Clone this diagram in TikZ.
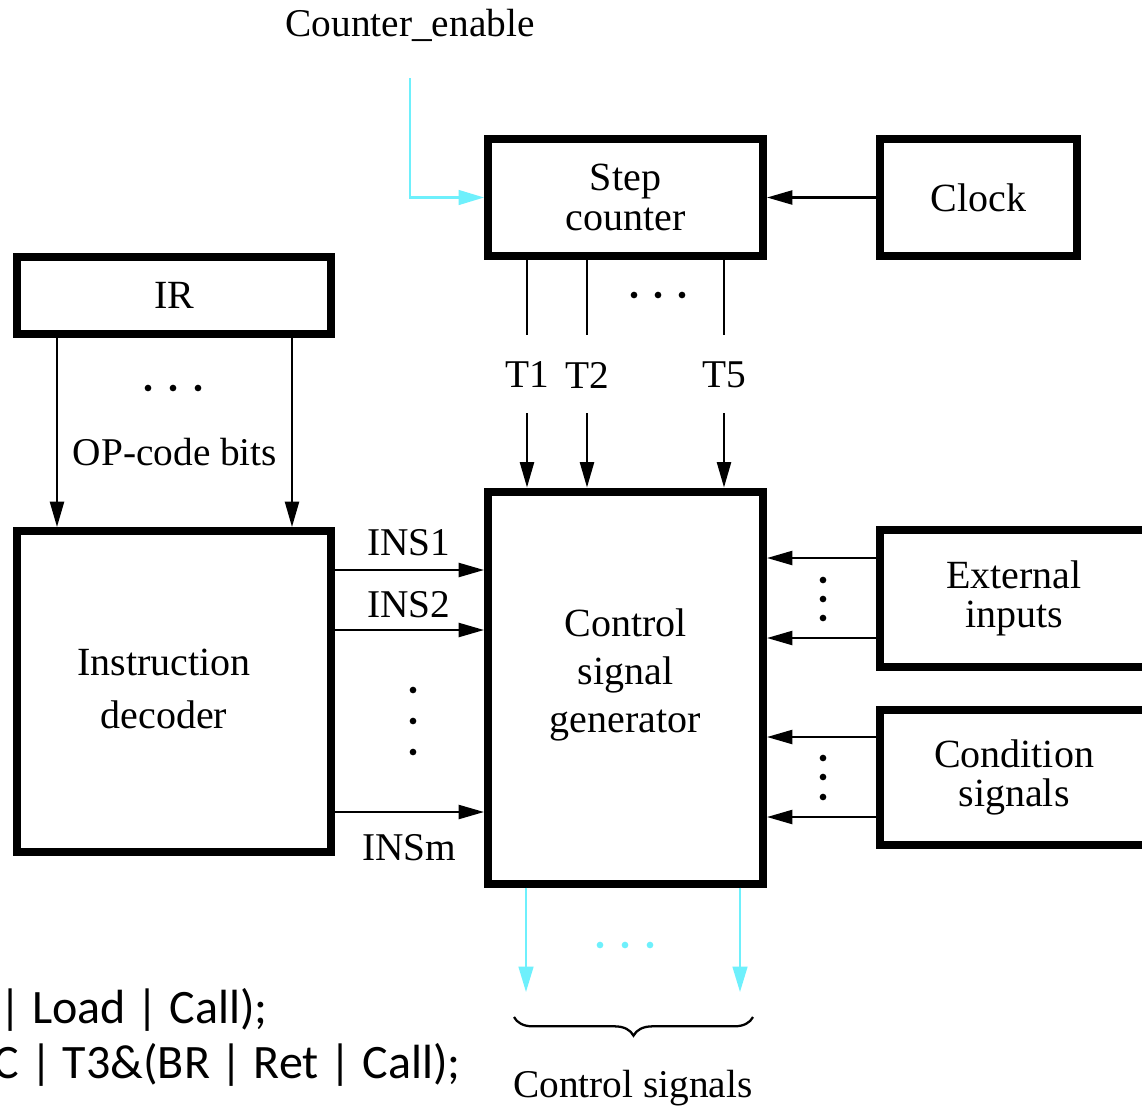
\documentclass[tikz,border=0pt]{standalone}
\usepackage{fontspec}
\setmainfont{Liberation Serif}
\newfontfamily\calibri{Carlito}
\usetikzlibrary{arrows.meta,decorations.pathreplacing,calc}
\definecolor{cyanline}{RGB}{110,240,252}
\begin{document}
\begin{tikzpicture}[x=0.75pt,y=-0.75pt,
  sz/.style 2 args={minimum width=#1*0.75pt,minimum height=#2*0.75pt},
  box/.style={draw,line width=6pt,inner sep=0pt,align=center,font=\fontsize{30}{29.5}\selectfont},
  wire/.style={line width=1.7pt},
  arr/.style={wire,-{Triangle[length=19pt,width=10.5pt]}},
  carr/.style={line width=1.7pt,draw=cyanline,-{Triangle[length=19pt,width=11pt,fill=cyanline]}},
  lbl/.style={font=\fontsize{29.5}{29.5}\selectfont,inner sep=0pt,align=center},
  dotc/.style={circle,fill,inner sep=0pt,minimum size=5pt},
  codetxt/.style={font=\calibri\fontsize{36}{40}\selectfont,inner sep=0pt,anchor=base east}]
\useasboundingbox (0,0) rectangle (1142,1107);
\clip (0,0) rectangle (1142,1107);
\fill[white] (0,0) rectangle (1142,1107);

% boxes
\node[box,sz={275}{117}] (sc) at (625.5,197.5) {Step\\counter};
\node[box,sz={197}{117}] (clk) at (978.5,197.5) {Clock};
\node[box,sz={314}{77}] (ir) at (174,295.5) {IR};
\node[box,sz={314}{321}] (dec) at (174,691.5) {};
\node[lbl,font=\fontsize{30}{40}\selectfont] (dect) at (164,689) {Instruction\\decoder};
\node[box,sz={275}{392}] (csg) at (625.5,687.5) {};
\node[lbl,font=\fontsize{30}{36}\selectfont] (csgt) at (625.5,675) {Control\\signal\\generator};
\node[box,sz={268}{137}] (ext) at (1014,598.5) {External\\inputs};
\node[box,sz={268}{135}] (cond) at (1014,777.5) {Condition\\signals};

% Counter_enable
\node[lbl] (ce) at (410,25) {Counter\_enable};
\coordinate (ces) at (410,78);
\draw[carr] (ces) |- (sc.west);

% clock
\draw[arr] (clk.west) -- (sc.east);

% step counter outputs
\coordinate (t1a) at (527,335);
\coordinate (t2a) at (587,335);
\coordinate (t5a) at (724,335);
\coordinate (t1b) at (527,413);
\coordinate (t2b) at (587,413);
\coordinate (t5b) at (724,413);
\draw[wire] (sc.south -| t1a) -- (t1a);
\draw[wire] (sc.south -| t2a) -- (t2a);
\draw[wire] (sc.south -| t5a) -- (t5a);
\node[lbl] (T1) at (527,375) {T1};
\node[lbl] (T2) at (587,375) {T2};
\node[lbl] (T5) at (724,375) {T5};
\draw[arr] (t1b) -- (csg.north -| t1b);
\draw[arr] (t2b) -- (csg.north -| t2b);
\draw[arr] (t5b) -- (csg.north -| t5b);
\node[dotc] (sd1) at (634,295) {};
\node[dotc] (sd2) at (658,295) {};
\node[dotc] (sd3) at (682,295) {};

% IR outputs
\coordinate (o1) at (57,430);
\coordinate (o2) at (292,430);
\draw[arr] (ir.south -| o1) -- (dec.north -| o1);
\draw[arr] (ir.south -| o2) -- (dec.north -| o2);
\node[dotc] (id1) at (148,388) {};
\node[dotc] (id2) at (173,388) {};
\node[dotc] (id3) at (198,388) {};
\node[lbl] (op) at (175,452) {OP-code bits};

% INS lines
\coordinate (i1) at (410,570);
\coordinate (i2) at (410,630);
\coordinate (im) at (410,812);
\draw[arr] (dec.east |- i1) -- (csg.west |- i1);
\draw[arr] (dec.east |- i2) -- (csg.west |- i2);
\draw[arr] (dec.east |- im) -- (csg.west |- im);
\node[lbl] (ins1) at (409,543) {INS1};
\node[lbl] (ins2) at (409,605) {INS2};
\node[lbl] (insm) at (409,848) {INSm};
\node[dotc] (nd1) at (413,690) {};
\node[dotc] (nd2) at (413,721) {};
\node[dotc] (nd3) at (413,752) {};

% external inputs
\coordinate (e1) at (820,558);
\coordinate (e2) at (820,638);
\draw[arr] (ext.west |- e1) -- (csg.east |- e1);
\draw[arr] (ext.west |- e2) -- (csg.east |- e2);
\node[dotc] (ed1) at (823,580) {};
\node[dotc] (ed2) at (823,599) {};
\node[dotc] (ed3) at (823,618) {};

% condition signals
\coordinate (c1) at (820,737);
\coordinate (c2) at (820,817);
\draw[arr] (cond.west |- c1) -- (csg.east |- c1);
\draw[arr] (cond.west |- c2) -- (csg.east |- c2);
\node[dotc] (cd1) at (823,758) {};
\node[dotc] (cd2) at (823,777) {};
\node[dotc] (cd3) at (823,797) {};

% control signal outputs
\coordinate (k1) at (526,992);
\coordinate (k2) at (740,992);
\draw[carr] (csg.south -| k1) -- (k1);
\draw[carr] (csg.south -| k2) -- (k2);
\node[dotc,fill=cyanline] (kd1) at (600,945) {};
\node[dotc,fill=cyanline] (kd2) at (625,945) {};
\node[dotc,fill=cyanline] (kd3) at (650,945) {};
\coordinate (b1) at (514,1017);
\coordinate (b2) at (753,1017);
\draw[line width=1.7pt,decorate,decoration={brace,mirror,amplitude=14pt}] (b1) -- (b2);
\node[lbl] (cs) at (633,1088) {Control signals};

% code fragments
\node[codetxt] (code1) at (268,1023) {| Load | Call);};
\node[codetxt] (code2) at (461,1078) {C | T3\&(BR | Ret | Call);};
\end{tikzpicture}
\end{document}
